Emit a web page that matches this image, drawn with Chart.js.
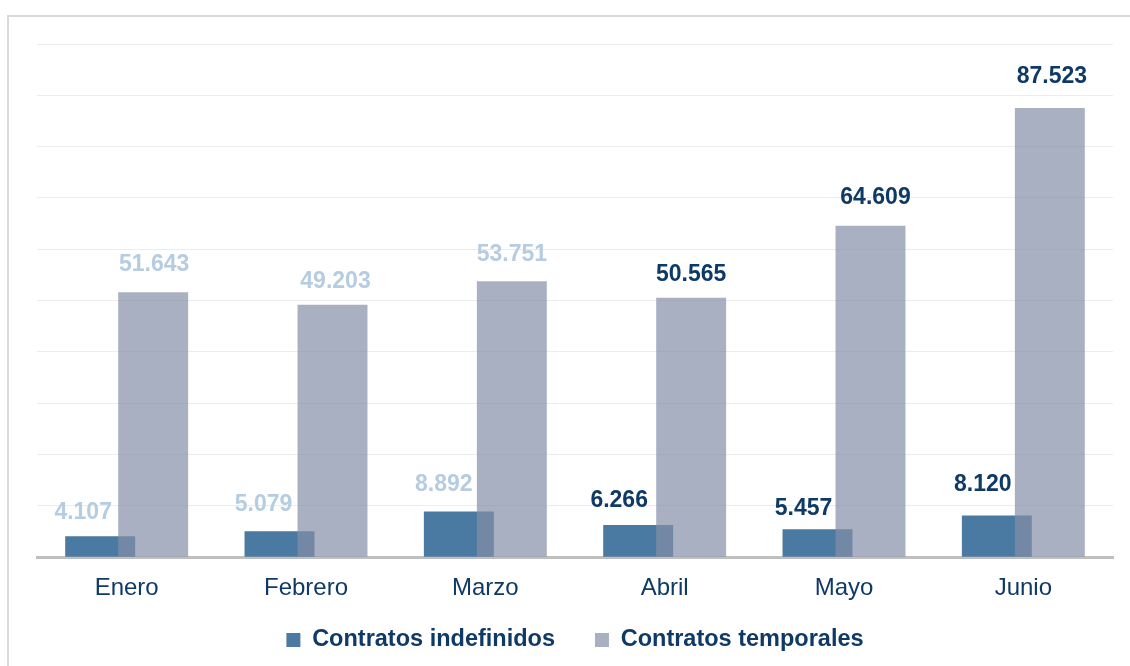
<!DOCTYPE html>
<html><head><meta charset="utf-8">
<script src="https://cdn.jsdelivr.net/npm/chart.js@4"></script>
<style>
html,body{margin:0;padding:0;background:#fff;overflow:hidden}
#wrap{position:relative;width:1130px;height:666px;overflow:hidden}
#frame{position:absolute;left:7px;top:15px;width:1200px;height:700px;border-left:2px solid #d9d9d9;border-top:2px solid #d9d9d9;box-sizing:border-box}
canvas{position:absolute;left:0;top:0}
</style></head><body>
<div id="wrap"><div id="frame"></div><canvas id="c" width="1130" height="666"></canvas></div>
<script>
// ---- data ----
const months = ['Enero', 'Febrero', 'Marzo', 'Abril', 'Mayo', 'Junio'];
const indefinidos = [4107, 5079, 8892, 6266, 5457, 8120];
const temporales = [51643, 49203, 53751, 50565, 64609, 87523];
const seriesNames = ['Contratos indefinidos', 'Contratos temporales'];
const yMin = 0, yMax = 100000, yStep = 10000;

// ---- styles ----
const FONT = '"Liberation Sans", Arial, sans-serif';
const NAVY = '#0f3a66';
const LIGHT = '#b5cce1';
const LABEL_COLORS = [LIGHT, LIGHT, LIGHT, NAVY, NAVY, NAVY];
// value-label placement relative to the bar: [horizontal shift, gap above bar top] in px
const LABEL_NUDGE = [
  [[-17, 17], [-16, 20], [-15, 21], [-19, 18], [-14, 14], [-14, 25]],
  [[1, 21], [3, 17], [0, 20], [0, 17], [5, 22], [2, 25]]
];

function fmt(v) { return String(v).replace(/\B(?=(\d{3})+(?!\d))/g, '.'); }

const overlayPlugin = {
  id: 'overlay',
  beforeDatasetDraw(chart, args) {
    if (args.index === 1) return false; // drawn later, on top
  },
  afterDatasetsDraw(chart) {
    const ctx = chart.ctx;
    const m1 = chart.getDatasetMeta(1);
    if (!m1.hidden) { ctx.save(); m1.controller.draw(); ctx.restore(); }
    ctx.save();
    ctx.font = 'bold 23px ' + FONT;
    ctx.textAlign = 'center';
    ctx.textBaseline = 'alphabetic';
    [0, 1].forEach(di => {
      const meta = chart.getDatasetMeta(di);
      if (meta.hidden) return;
      meta.data.forEach((el, i) => {
        const [dx, gap] = LABEL_NUDGE[di][i];
        ctx.fillStyle = LABEL_COLORS[i];
        ctx.fillText(fmt(chart.data.datasets[di].data[i]), el.x + dx, el.y - gap);
      });
    });
    ctx.restore();
  }
};

new Chart(document.getElementById('c'), {
  type: 'bar',
  data: {
    labels: months,
    datasets: [
      { label: seriesNames[0], data: indefinidos, backgroundColor: '#4a79a1', borderWidth: 0,
        categoryPercentage: 0.591, barPercentage: 1.32 },
      { label: seriesNames[1], data: temporales, backgroundColor: 'rgba(132,142,167,0.7)', borderWidth: 0,
        categoryPercentage: 0.591, barPercentage: 1.32 }
    ]
  },
  options: {
    responsive: false,
    animation: false,
    layout: { padding: { left: 37, right: 17, top: 44, bottom: 4.25 } },
    plugins: {
      legend: {
        position: 'bottom',
        title: { display: true, text: '', font: { size: 10, lineHeight: 1 }, padding: 10.5 },
        labels: { boxWidth: 14, boxHeight: 14, padding: 40, color: NAVY,
          font: { family: FONT, size: 23.5, weight: 'bold' } }
      },
      tooltip: { enabled: false }
    },
    scales: {
      x: {
        axis: 'x',
        position: { y: 0 },
        grid: { display: true, color: 'rgba(0,0,0,0)', drawTicks: true, tickLength: 17 },
        border: { display: true, color: '#bfbfbf', width: 3 },
        ticks: { color: NAVY, font: { family: FONT, size: 24 }, padding: 0 }
      },
      y: {
        min: yMin, max: yMax,
        ticks: { display: false, stepSize: yStep },
        grid: { color: '#ececec', lineWidth: 1, drawTicks: false },
        border: { display: false }
      }
    }
  },
  plugins: [overlayPlugin]
});
</script>
</body></html>
